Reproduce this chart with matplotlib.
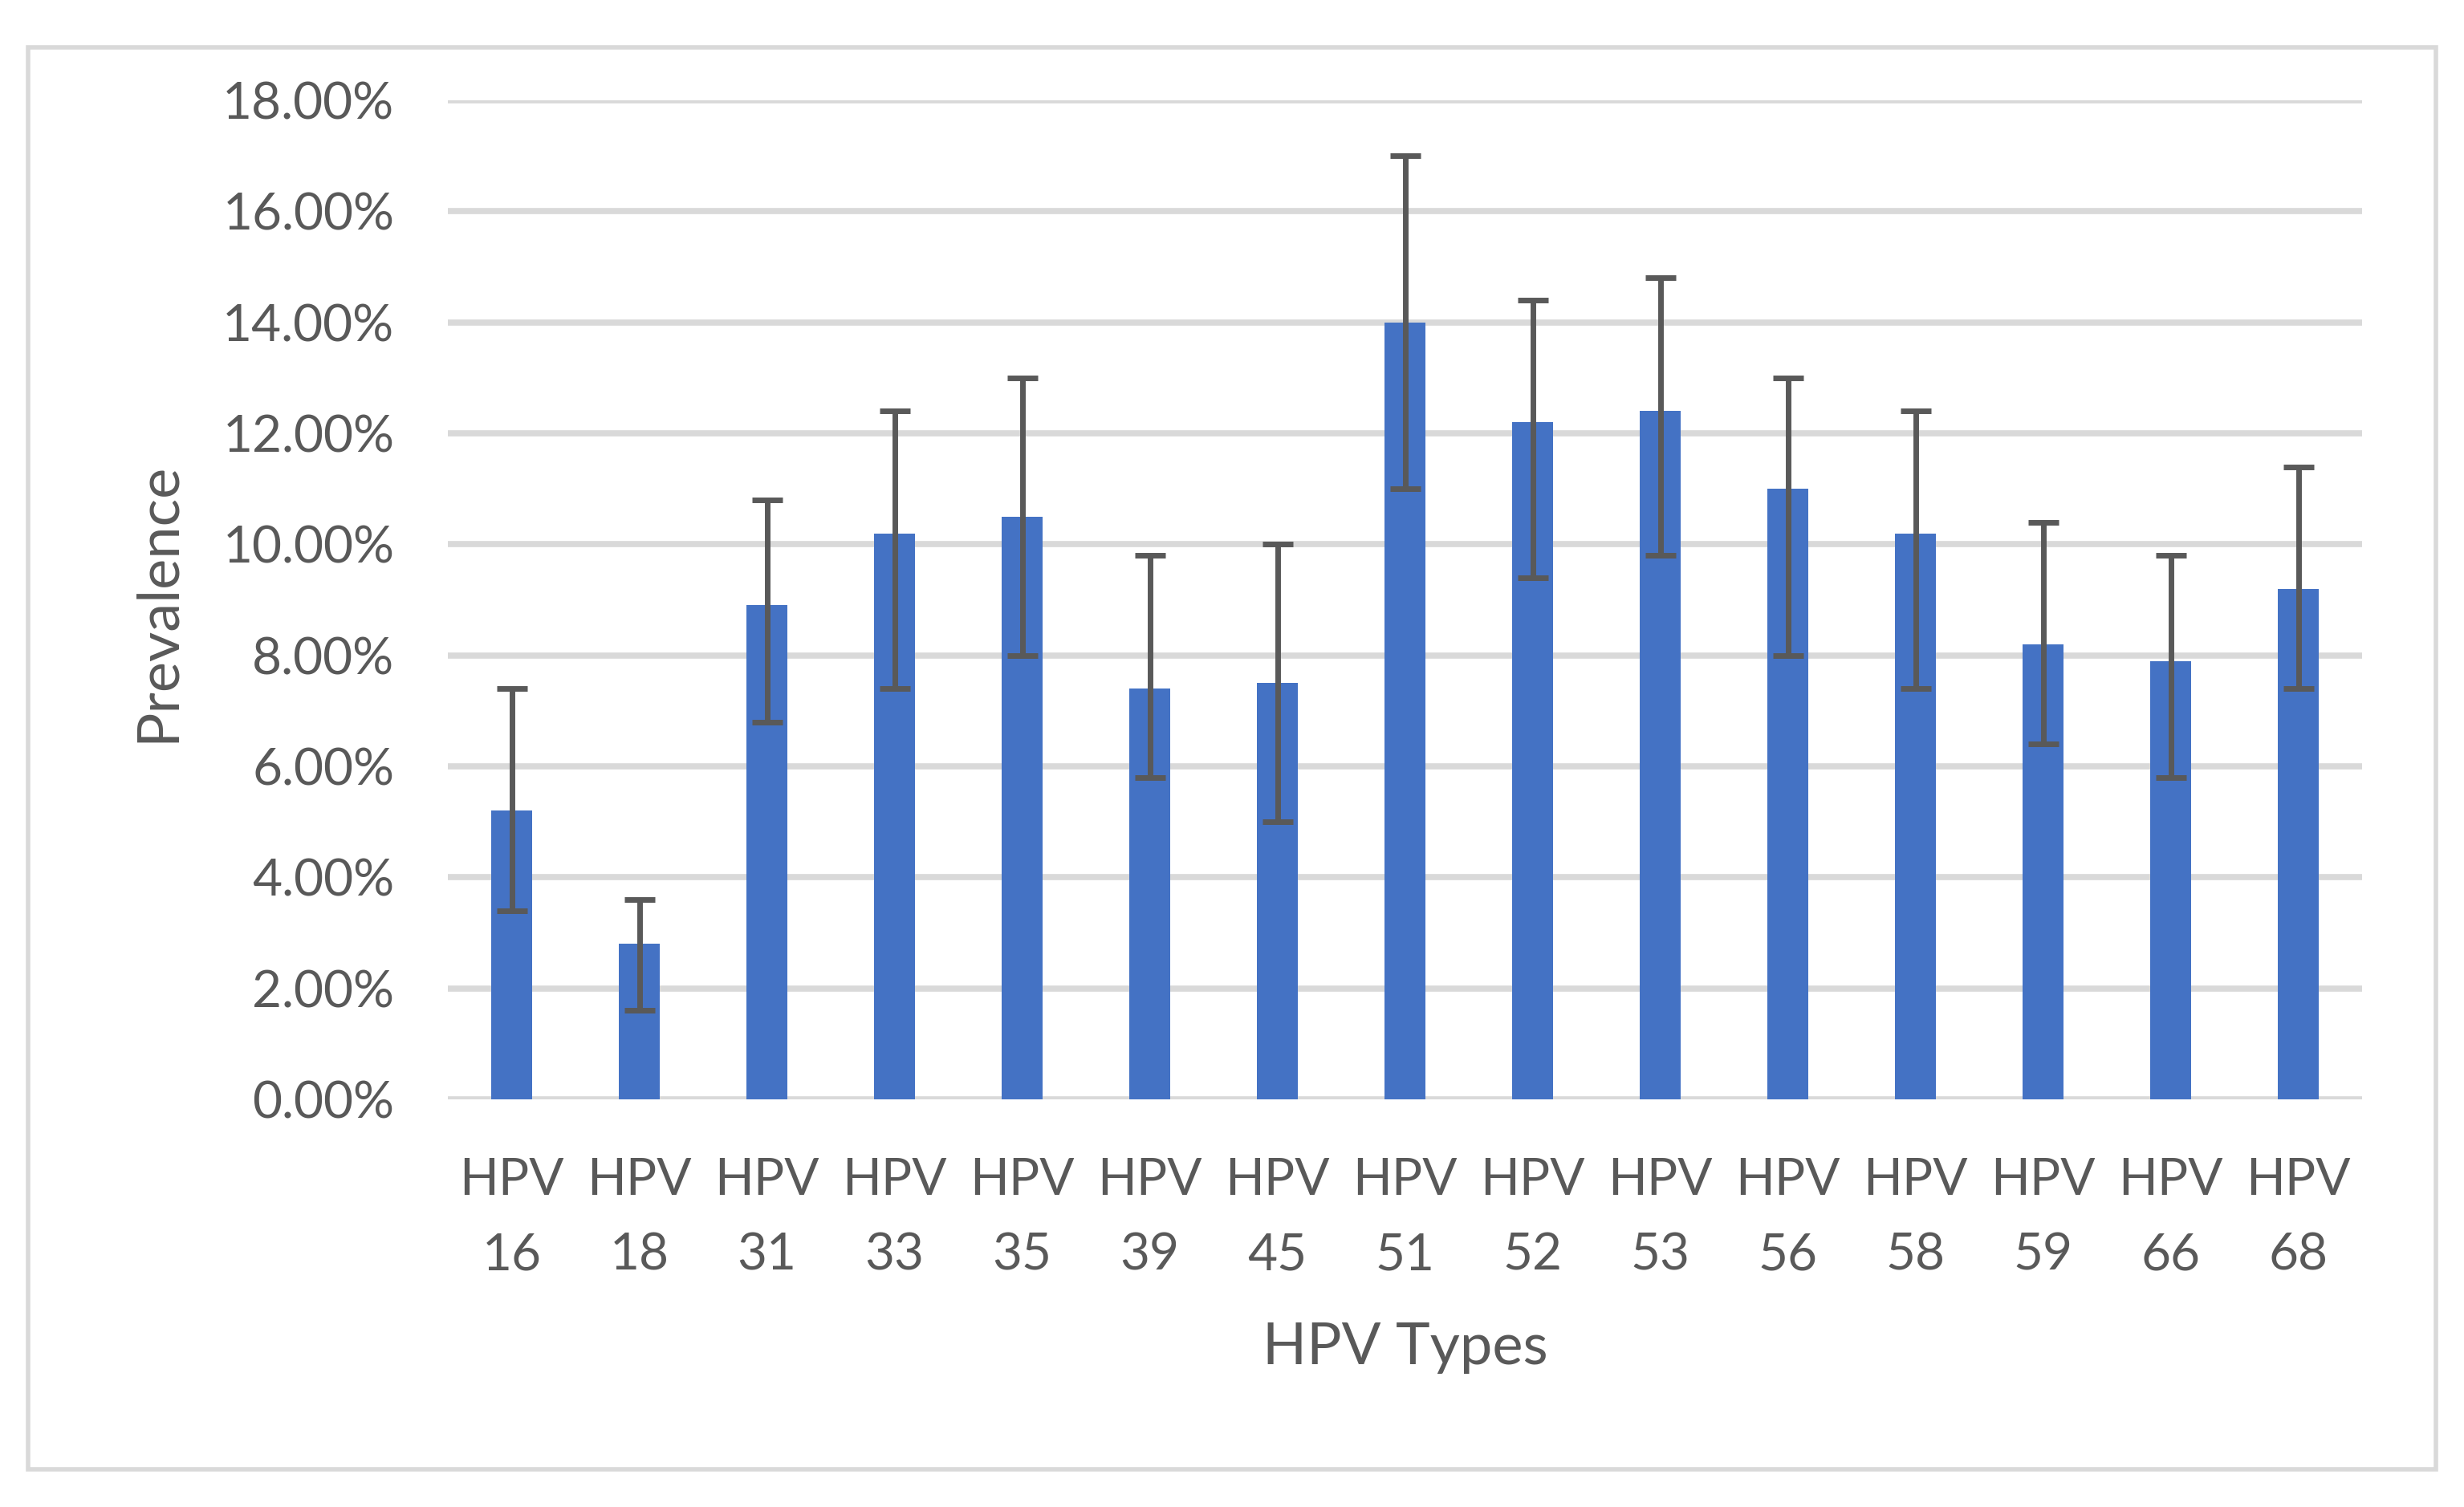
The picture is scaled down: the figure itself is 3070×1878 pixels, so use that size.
import matplotlib
matplotlib.use("Agg")
import matplotlib.pyplot as plt
from matplotlib.patches import Rectangle
from matplotlib.ticker import FuncFormatter, MultipleLocator

plt.rcParams['font.family'] = ['Lato', 'DejaVu Sans']

# ---- data (percent) ----
categories = ["HPV\n16", "HPV\n18", "HPV\n31", "HPV\n33", "HPV\n35", "HPV\n39", "HPV\n45",
              "HPV\n51", "HPV\n52", "HPV\n53", "HPV\n56", "HPV\n58", "HPV\n59", "HPV\n66", "HPV\n68"]
prevalence = [5.2, 2.8, 8.9, 10.2, 10.5, 7.4, 7.5, 14.0, 12.2, 12.4, 11.0, 10.2, 8.2, 7.9, 9.2]
ci_lower = [3.4, 1.6, 6.8, 7.4, 8.0, 5.8, 5.0, 11.0, 9.4, 9.8, 8.0, 7.4, 6.4, 5.8, 7.4]
ci_upper = [7.4, 3.6, 10.8, 12.4, 13.0, 9.8, 10.0, 17.0, 14.4, 14.8, 13.0, 12.4, 10.4, 9.8, 11.4]

TEXT = "#595959"
GRID = "#D9D9D9"
BAR = "#4472C4"
ERR = "#595959"

W, H = 3070, 1878
fig = plt.figure(figsize=(W / 100, H / 100), dpi=100)
fig.patch.set_facecolor("white")

# plot area
left, right, top, bottom = 558, 2943, 125, 1370
ax = fig.add_axes([left / W, 1 - bottom / H, (right - left) / W, (bottom - top) / H])

x = list(range(len(categories)))
err_low = [p - l for p, l in zip(prevalence, ci_lower)]
err_high = [u - p for p, u in zip(prevalence, ci_upper)]

ax.bar(x, prevalence, width=0.32, color=BAR, zorder=3)
ax.errorbar(x, prevalence, yerr=[err_low, err_high], fmt="none", ecolor=ERR,
            elinewidth=5, capsize=13.5, capthick=5, zorder=4)

ax.set_xlim(-0.5, len(categories) - 0.5)
ax.set_ylim(0, 18)
ax.yaxis.set_major_locator(MultipleLocator(2))
ax.yaxis.set_major_formatter(FuncFormatter(lambda v, pos: f"{v:.2f}%"))
ax.set_xticks(x)
ax.set_xticklabels(categories, linespacing=1.75)

ax.grid(axis="y", color=GRID, linewidth=5.5, zorder=0)
ax.set_axisbelow(True)
for s in ax.spines.values():
    s.set_visible(False)

ax.tick_params(axis="both", length=0, labelsize=46, colors=TEXT)
ax.tick_params(axis="y", pad=48)
ax.tick_params(axis="x", pad=52)

ax.set_xlabel("HPV Types", fontsize=52, color=TEXT)
ax.set_ylabel("Prevalence", fontsize=52, color=TEXT)
ax.xaxis.label.set_va("center")
ax.yaxis.label.set_va("center")
ax.xaxis.set_label_coords(0.5, (bottom - 1680) / (bottom - top))
ax.yaxis.set_label_coords((196 - left) / (right - left), (bottom - 750) / (bottom - top))

# outer chart border
fig.patches.append(Rectangle((35 / W, 1 - 1831 / H), (3035 - 35) / W, (1831 - 59) / H,
                             transform=fig.transFigure, fill=False, edgecolor=GRID,
                             linewidth=4, zorder=0))

fig.savefig("out.png", dpi=100, facecolor="white")
